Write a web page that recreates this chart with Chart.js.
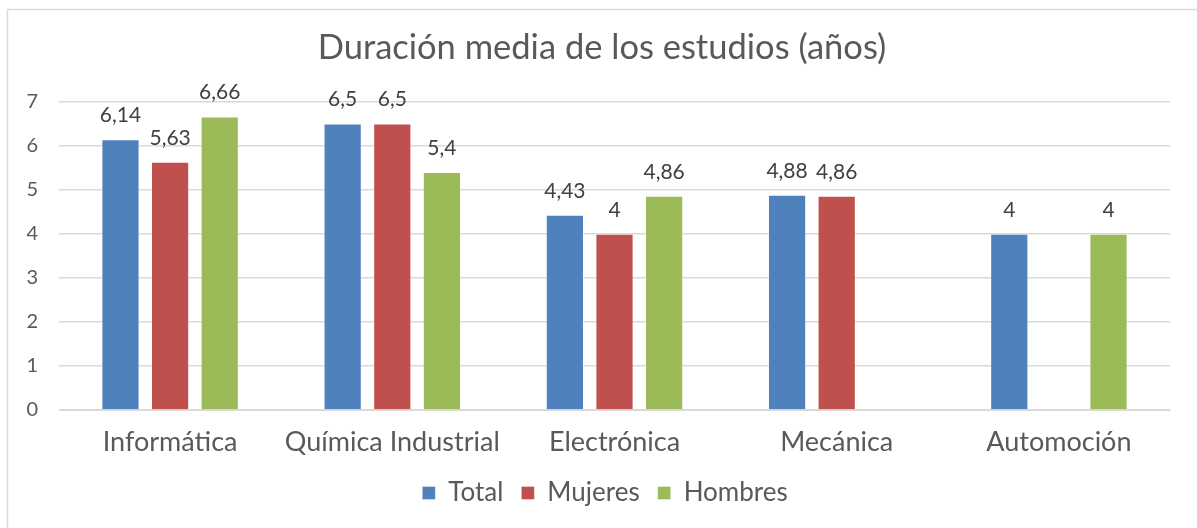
<!DOCTYPE html>
<html><head><meta charset="utf-8">
<script src="https://cdn.jsdelivr.net/npm/chart.js@4.4.0/dist/chart.umd.min.js"></script>
<style>html,body{margin:0;padding:0;background:#fff}#wrap{width:1197px;height:528px}</style>
</head><body><div id="wrap"><canvas id="c" width="1197" height="528"></canvas></div>
<script>
const categories = ['Informática', 'Química Industrial', 'Electrónica', 'Mecánica', 'Automoción'];
const seriesNames = ['Total', 'Mujeres', 'Hombres'];
const totalValues = [6.14, 6.5, 4.43, 4.88, 4];
const mujeresValues = [5.63, 6.5, 4, 4.86, null];
const hombresValues = [6.66, 5.4, 4.86, null, 4];
const yTickValues = [0, 1, 2, 3, 4, 5, 6, 7];
const titleText = 'Duración media de los estudios (años)';

const FONT = 'Lato, "Open Sans", sans-serif';
const TEXT = '#595959';

const frame = {
  id: 'frame',
  afterLayout(chart) {
    // centre title and legend on the whole chart frame, as in the original
    if (chart.titleBlock) { chart.titleBlock.left += 17; chart.titleBlock.right += 17; }
    if (chart.legend) { chart.legend.left += 20; chart.legend.right += 20; }
  },
  beforeDraw(chart) {
    const c = chart.ctx;
    c.save();
    c.fillStyle = '#fff';
    c.fillRect(0, 0, chart.width, chart.height);
    c.strokeStyle = '#D9D9D9';
    c.lineWidth = 1.5;
    c.beginPath();
    c.moveTo(7.5, chart.height + 2);
    c.lineTo(7.5, 9.5);
    c.lineTo(chart.width + 2, 9.5);
    c.stroke();
    c.restore();
  }
};

const valueLabels = {
  id: 'valueLabels',
  afterDatasetsDraw(chart) {
    const c = chart.ctx;
    c.save();
    c.font = '21px ' + FONT;
    c.fillStyle = '#404040';
    c.textAlign = 'center';
    c.textBaseline = 'alphabetic';
    chart.data.datasets.forEach((ds, di) => {
      const meta = chart.getDatasetMeta(di);
      meta.data.forEach((el, i) => {
        const v = ds.data[i];
        if (v === null || v === undefined) return;
        c.fillText(String(v).replace('.', ','), el.x, el.y - 17);
      });
    });
    c.restore();
  }
};

const mk = (label, data, color) => ({
  label, data,
  backgroundColor: color,
  borderColor: 'rgba(255,255,255,0.35)',
  borderWidth: 1,
  categoryPercentage: 0.67,
  barPercentage: 0.77
});

new Chart(document.getElementById('c'), {
  type: 'bar',
  data: {
    labels: categories,
    datasets: [
      mk(seriesNames[0], totalValues, '#4F81BD'),
      mk(seriesNames[1], mujeresValues, '#C0504D'),
      mk(seriesNames[2], hombresValues, '#9BBB59')
    ]
  },
  options: {
    responsive: false,
    animation: false,
    layout: { padding: { left: 0, right: 27, top: 0, bottom: 12 } },
    plugins: {
      title: {
        display: true,
        text: titleText,
        color: TEXT,
        font: { family: FONT, size: 34.5, weight: 'normal' },
        padding: { top: 27, bottom: 33 }
      },
      legend: {
        position: 'bottom',
        labels: {
          color: TEXT,
          font: { family: FONT, size: 26 },
          boxWidth: 13,
          boxHeight: 13,
          padding: 18
        }
      },
      tooltip: { enabled: false }
    },
    scales: {
      x: {
        grid: { display: false },
        border: { color: '#D9D9D9' },
        ticks: { color: TEXT, font: { family: FONT, size: 27 }, padding: 8 },
        afterFit(s) { s.height = 52; }
      },
      y: {
        min: 0, max: 7,
        afterBuildTicks(s) { s.ticks = yTickValues.map(v => ({ value: v })); },
        grid: { color: '#D9D9D9', lineWidth: 1.5, drawTicks: false },
        border: { display: false },
        ticks: { color: TEXT, font: { family: FONT, size: 20 }, padding: 21 },
        afterFit(s) { s.width = 59; }
      }
    }
  },
  plugins: [frame, valueLabels]
});
</script></body></html>
